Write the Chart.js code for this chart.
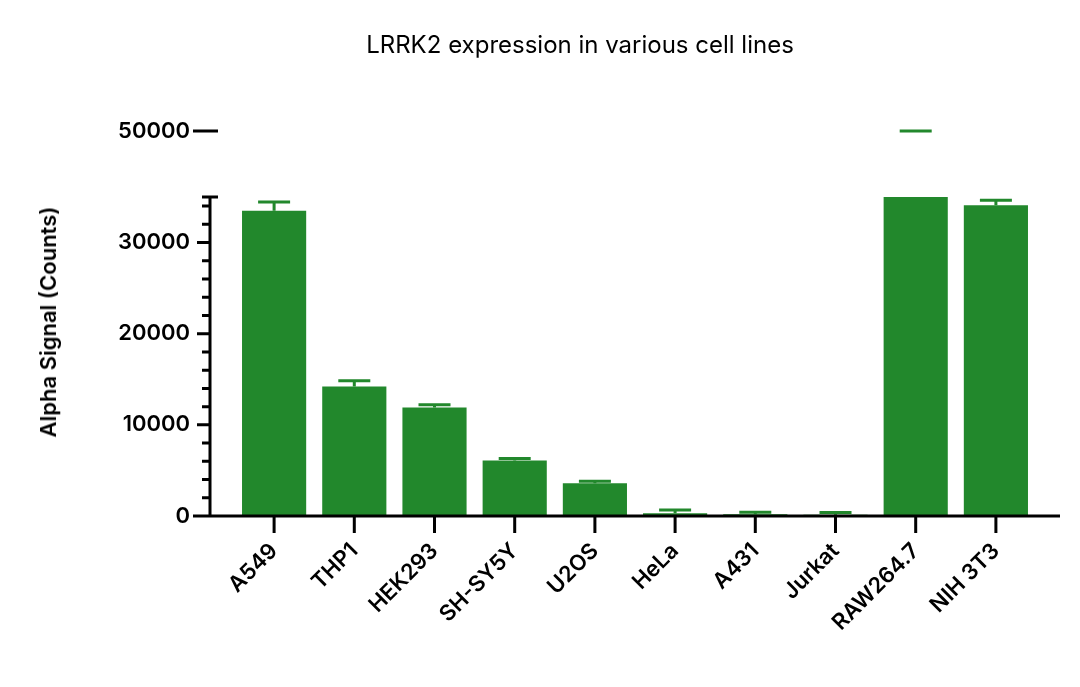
<!DOCTYPE html>
<html><head><meta charset="utf-8">
<script src="https://cdn.jsdelivr.net/npm/chart.js@4"></script>
<style>
html,body{margin:0;padding:0;background:#fff;}
#wrap{position:relative;width:1080px;height:687px;}
canvas{position:absolute;left:0;top:0;}
#title{position:absolute;top:30px;left:0;width:1160px;text-align:center;font:400 24px Inter,"Noto Sans",sans-serif;color:#000;}
#ytitle{position:absolute;left:48px;top:322px;transform:translate(-50%,-50%) rotate(-90deg);white-space:nowrap;font:600 22px Inter,"Noto Sans",sans-serif;color:#000;}
</style></head><body>
<div id="wrap">
<canvas id="c2" width="1080" height="687"></canvas>
<canvas id="c1" width="1080" height="200"></canvas>
<div id="title">LRRK2 expression in various cell lines</div>
<div id="ytitle">Alpha Signal (Counts)</div>
</div>
<script>
const categories = ["A549","THP1","HEK293","SH-SY5Y","U2OS","HeLa","A431","Jurkat","RAW264.7","NIH 3T3"];
const values = [33500,14200,11900,6100,3600,300,200,150,67400,34100];
const errorTops = [34450,14850,12200,6320,3820,650,400,380,69500,34650];
const lowerTicks = [0,10000,20000,30000];
const upperTicks = [50000,75000];
const GREEN = "#22882c";
const FONT = {family:"Inter, 'Noto Sans', sans-serif", size:22, weight:'600'};

function errPlugin(){
  return {id:'err', afterDatasetsDraw(chart){
    const ctx=chart.ctx, x=chart.scales.x, y=chart.scales.y;
    ctx.save(); ctx.strokeStyle=GREEN; ctx.lineWidth=3;
    values.forEach((v,i)=>{
      const e=errorTops[i];
      if(v<y.min||e>y.max) return;
      const px=x.getPixelForValue(i), y0=y.getPixelForValue(v), y1=y.getPixelForValue(e);
      ctx.beginPath(); ctx.moveTo(px,y0); ctx.lineTo(px,y1);
      ctx.moveTo(px-16,y1); ctx.lineTo(px+16,y1); ctx.stroke();
    });
    ctx.restore();
  }};
}
function axesPlugin(lower){
  return {id:'axes', afterDraw(chart){
    const ctx=chart.ctx, x=chart.scales.x, y=chart.scales.y;
    ctx.save(); ctx.strokeStyle='#000'; ctx.lineWidth=3; ctx.lineCap='butt';
    const ax=210;
    ctx.beginPath();
    ctx.moveTo(ax,y.getPixelForValue(y.max)-1.5); ctx.lineTo(ax,y.getPixelForValue(y.min)+1.5);
    if(lower){
      const yb=y.getPixelForValue(0);
      ctx.moveTo(193,yb); ctx.lineTo(1060,yb);
      categories.forEach((c,i)=>{const px=x.getPixelForValue(i); ctx.moveTo(px,yb); ctx.lineTo(px,533);});
      for(let v=0;v<=34000;v+=2000){
        const py=y.getPixelForValue(v);
        if(v%10000===0){ctx.moveTo(197,py);ctx.lineTo(ax,py);} else {ctx.moveTo(202,py);ctx.lineTo(ax,py);}
      }
      const pt=y.getPixelForValue(35000); ctx.moveTo(202,pt); ctx.lineTo(218,pt);
    } else {
      const p75=y.getPixelForValue(75000), p62=y.getPixelForValue(62500), p50=y.getPixelForValue(50000);
      ctx.moveTo(193,p75); ctx.lineTo(ax,p75);
      ctx.moveTo(202,p62); ctx.lineTo(ax,p62);
      ctx.moveTo(202,p50); ctx.lineTo(218,p50);
    }
    ctx.stroke(); ctx.restore();
  }};
}
function makeChart(id, lower){
  const tickSet = lower?lowerTicks:upperTicks;
  return new Chart(document.getElementById(id),{
    type:'bar',
    data:{labels:categories,datasets:[{data:values,backgroundColor:GREEN,borderWidth:0,
      categoryPercentage:1,barPercentage:0.8}]},
    options:{responsive:false,animation:false,
      layout:{padding:{left:0,right:44,top:lower?197:131,bottom:lower?0:33}},
      plugins:{legend:{display:false},tooltip:{enabled:false}},
      scales:{
        x:{display:lower,grid:{display:false,drawTicks:false},border:{display:false},
          ticks:{font:FONT,color:'#000',maxRotation:45,minRotation:45,padding:22},
          afterFit(s){s.height=171;}},
        y:{min:lower?0:50000,max:lower?35000:75000,
          grid:{display:false,drawTicks:false},border:{display:false},
          afterBuildTicks(s){s.ticks=tickSet.map(v=>({value:v}));},
          ticks:{font:FONT,color:'#000',padding:44,callback:v=>String(v)},
          afterFit(s){s.width=234;}}
      }},
    plugins:[errPlugin(),axesPlugin(lower)]
  });
}
makeChart('c1',false);
makeChart('c2',true);
</script></body></html>
